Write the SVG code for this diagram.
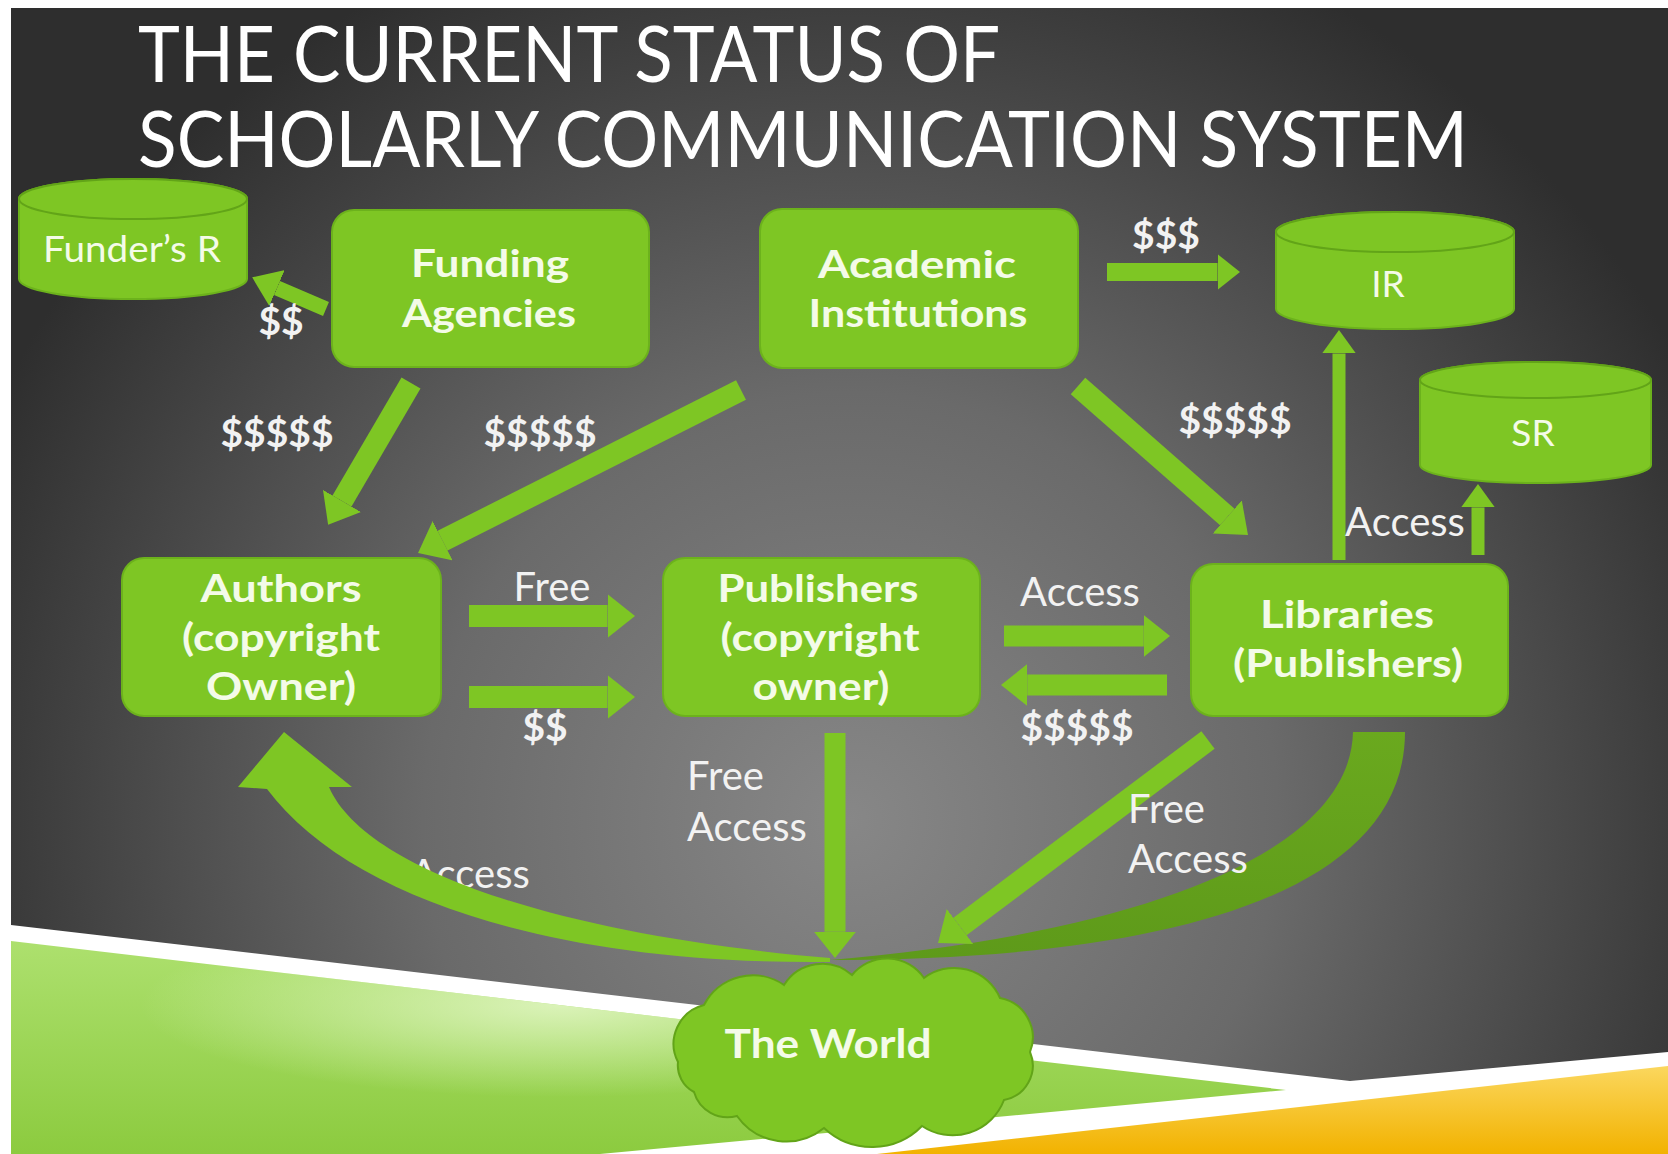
<svg xmlns="http://www.w3.org/2000/svg" width="1668" height="1154" viewBox="0 0 1668 1154">
<defs>
<radialGradient id="bg" gradientUnits="userSpaceOnUse" cx="850" cy="820" r="950">
<stop offset="0" stop-color="#878787"/>
<stop offset="0.45" stop-color="#6a6a6a"/>
<stop offset="1" stop-color="#2e2e2e"/>
</radialGradient>
<linearGradient id="grn" x1="0" y1="0" x2="0" y2="1">
<stop offset="0" stop-color="#ade06e"/>
<stop offset="1" stop-color="#8ccb3f"/>
</linearGradient>
<radialGradient id="hl" gradientUnits="userSpaceOnUse" cx="560" cy="1005" r="420" gradientTransform="translate(560 1005) scale(1 0.22) translate(-560 -1005)">
<stop offset="0" stop-color="#e4f7c8" stop-opacity="0.85"/>
<stop offset="1" stop-color="#e4f7c8" stop-opacity="0"/>
</radialGradient>
<linearGradient id="yel" x1="0" y1="0" x2="0" y2="1">
<stop offset="0" stop-color="#fbd75e"/>
<stop offset="1" stop-color="#f2b200"/>
</linearGradient>
<linearGradient id="dark" x1="0" y1="0" x2="0" y2="1">
<stop offset="0" stop-color="#6aa91e"/>
<stop offset="1" stop-color="#5e9a1a"/>
</linearGradient>
<marker id="ah" viewBox="0 -1 1.25 2" markerWidth="1.25" markerHeight="2" refX="0" refY="0" orient="auto" markerUnits="strokeWidth">
<path d="M0,-1 L1.25,0 L0,1 Z" fill="#7ec624"/>
</marker>
<marker id="ah2" viewBox="0 -1.3 1.8 2.6" markerWidth="1.8" markerHeight="2.6" refX="0" refY="0" orient="auto" markerUnits="strokeWidth">
<path d="M0,-1.3 L1.8,0 L0,1.3 Z" fill="#7ec624"/>
</marker>
<style>
.box{fill:#7ec624;stroke:#6cb21c;stroke-width:2}
.cyl{fill:#7ec624;stroke:#6cb21c;stroke-width:2}
.rim{fill:#7ec624;stroke:#62a418;stroke-width:2}
.bt{font-family:Lato,"Liberation Sans",sans-serif;font-weight:700;font-size:38px;fill:#f4fbe8;text-anchor:middle}
.ct{font-family:Lato,"Liberation Sans",sans-serif;font-weight:400;font-size:37px;fill:#f4fbe8;text-anchor:middle}
.lb{font-family:Lato,"Liberation Sans",sans-serif;font-weight:400;font-size:40px;fill:#f2f2f2}
.lbd{font-family:Lato,"Liberation Sans",sans-serif;font-weight:700;font-size:39px;fill:#f2f2f2;text-anchor:middle}
.ttl{font-family:Lato,"Liberation Sans",sans-serif;font-weight:400;font-size:78px;fill:#ffffff}
.ar{fill:none;stroke:#7ec624;stroke-linecap:butt}
</style>
</defs>
<rect x="0" y="0" width="1668" height="1154" fill="#ffffff"/>
<rect x="11" y="8" width="1657" height="1146" fill="url(#bg)"/>
<polygon points="11,925 1350,1081 1668,1052 1668,1154 11,1154" fill="#ffffff"/>
<polygon points="11,941 1286,1090 600,1154 11,1154" fill="url(#grn)"/>
<polygon points="11,941 1286,1090 600,1154 11,1154" fill="url(#hl)"/>
<polygon points="877,1154 1668,1066 1668,1154" fill="url(#yel)"/>
<g id="title">
<text class="ttl" x="138" y="82" textLength="862" lengthAdjust="spacingAndGlyphs">THE CURRENT STATUS OF</text>
<text class="ttl" x="138" y="167" textLength="1330" lengthAdjust="spacingAndGlyphs">SCHOLARLY COMMUNICATION SYSTEM</text>
</g>
<g id="curve-label">
<text class="lb" x="410" y="888">Access</text>
</g>
<g id="connectors">
<path id="curve-back" d="M830,960 C1150,960 1405,900 1405,732 L1353,732 C1350,860 1120,935 830,960 Z" fill="url(#dark)"/>
<path id="curve-front" d="M284,732 L352,787 L329,787 C365,870 560,935 830,958 L830,962 C560,965 350,900 267,789 L238,787 Z" fill="#7ec624"/>
<line class="ar" x1="326" y1="309" x2="277" y2="288" stroke-width="15" marker-end="url(#ah2)"/>
<line class="ar" x1="411" y1="383" x2="342" y2="501" stroke-width="22" marker-end="url(#ah)"/>
<line class="ar" x1="741" y1="390" x2="442.6" y2="540.6" stroke-width="22" marker-end="url(#ah)"/>
<line class="ar" x1="1107" y1="272" x2="1217.5" y2="272" stroke-width="18" marker-end="url(#ah)"/>
<line class="ar" x1="1078" y1="386" x2="1227.3" y2="516.9" stroke-width="22" marker-end="url(#ah)"/>
<line class="ar" x1="1339" y1="560" x2="1339" y2="353.4" stroke-width="13" marker-end="url(#ah2)"/>
<line class="ar" x1="1478" y1="555" x2="1478" y2="507.4" stroke-width="13" marker-end="url(#ah2)"/>
<line class="ar" x1="469" y1="616" x2="607.5" y2="616" stroke-width="22" marker-end="url(#ah)"/>
<line class="ar" x1="469" y1="697" x2="607.5" y2="697" stroke-width="22" marker-end="url(#ah)"/>
<line class="ar" x1="1004" y1="636" x2="1143.75" y2="636" stroke-width="21" marker-end="url(#ah)"/>
<line class="ar" x1="1167" y1="685" x2="1027.25" y2="685" stroke-width="21" marker-end="url(#ah)"/>
<line class="ar" x1="1208" y1="740" x2="960" y2="926.5" stroke-width="22" marker-end="url(#ah)"/>
<line class="ar" x1="835" y1="733" x2="835" y2="931.75" stroke-width="21" marker-end="url(#ah)"/>
</g>
<g id="labels">
<text class="lbd" x="281" y="335">$$</text>
<text class="lbd" x="277" y="447">$$$$$</text>
<text class="lbd" x="540" y="447">$$$$$</text>
<text class="lbd" x="1166" y="249">$$$</text>
<text class="lbd" x="1235" y="434">$$$$$</text>
<text class="lb" x="1405" y="536" text-anchor="middle">Access</text>
<text class="lb" x="552" y="601" text-anchor="middle">Free</text>
<text class="lbd" x="545" y="741">$$</text>
<text class="lb" x="1080" y="606" text-anchor="middle">Access</text>
<text class="lbd" x="1077" y="741">$$$$$</text>
<text class="lb" x="687" y="790">Free</text>
<text class="lb" x="687" y="841">Access</text>
<text class="lb" x="1128" y="823">Free</text>
<text class="lb" x="1128" y="873">Access</text>
</g>
<g id="funders-r">
<path class="cyl" d="M19,199 L19,279 A114,20 0 0 0 247,279 L247,199 A114,20 0 0 0 19,199 Z"/>
<ellipse class="rim" cx="133" cy="199" rx="114" ry="20"/>
<text class="ct" x="132" y="262" textLength="178" lengthAdjust="spacingAndGlyphs">Funder’s R</text>
</g>
<g id="funding-agencies">
<rect class="box" x="332" y="210" width="317" height="157" rx="22"/>
<text class="bt" x="490" y="277" textLength="158" lengthAdjust="spacingAndGlyphs">Funding</text>
<text class="bt" x="489" y="327" textLength="174" lengthAdjust="spacingAndGlyphs">Agencies</text>
</g>
<g id="academic-institutions">
<rect class="box" x="760" y="209" width="318" height="159" rx="22"/>
<text class="bt" x="917" y="278" textLength="198" lengthAdjust="spacingAndGlyphs">Academic</text>
<text class="bt" x="918" y="327" textLength="219" lengthAdjust="spacingAndGlyphs">Institutions</text>
</g>
<g id="ir">
<path class="cyl" d="M1276,232 L1276,309 A119,20 0 0 0 1514,309 L1514,232 A119,20 0 0 0 1276,232 Z"/>
<ellipse class="rim" cx="1395" cy="232" rx="119" ry="20"/>
<text class="ct" x="1388" y="297">IR</text>
</g>
<g id="sr">
<path class="cyl" d="M1420,380 L1420,465 A115.5,18 0 0 0 1651,465 L1651,380 A115.5,18 0 0 0 1420,380 Z"/>
<ellipse class="rim" cx="1535.5" cy="380" rx="115.5" ry="18"/>
<text class="ct" x="1533" y="446">SR</text>
</g>
<g id="authors">
<rect class="box" x="122" y="558" width="319" height="158" rx="22"/>
<text class="bt" x="281" y="602" textLength="161" lengthAdjust="spacingAndGlyphs">Authors</text>
<text class="bt" x="281" y="651" textLength="198" lengthAdjust="spacingAndGlyphs">(copyright</text>
<text class="bt" x="281" y="700" textLength="150" lengthAdjust="spacingAndGlyphs">Owner)</text>
</g>
<g id="publishers">
<rect class="box" x="663" y="558" width="317" height="158" rx="22"/>
<text class="bt" x="818" y="602" textLength="201" lengthAdjust="spacingAndGlyphs">Publishers</text>
<text class="bt" x="820" y="651" textLength="199" lengthAdjust="spacingAndGlyphs">(copyright</text>
<text class="bt" x="821" y="700" textLength="137" lengthAdjust="spacingAndGlyphs">owner)</text>
</g>
<g id="libraries">
<rect class="box" x="1191" y="564" width="317" height="152" rx="22"/>
<text class="bt" x="1347" y="628" textLength="174" lengthAdjust="spacingAndGlyphs">Libraries</text>
<text class="bt" x="1348" y="677" textLength="230" lengthAdjust="spacingAndGlyphs">(Publishers)</text>
</g>
<g id="the-world">
<path d="M678,1062 A40,40 0 0 1 704,1005 A55,55 0 0 1 784,985 A45,45 0 0 1 852,975 A45,45 0 0 1 924,978 A50,50 0 0 1 1000,998 A40,40 0 0 1 1030,1052 A35,35 0 0 1 1004,1100 A55,55 0 0 1 922,1126 A70,70 0 0 1 824,1128 A60,60 0 0 1 737,1116 A35,35 0 0 1 694,1092 A30,30 0 0 1 678,1062 Z" fill="#7ec624" stroke="#62a418" stroke-width="2"/>
<text class="bt" x="828" y="1058" style="font-size:40px" textLength="207" lengthAdjust="spacingAndGlyphs">The World</text>
</g>
</svg>
